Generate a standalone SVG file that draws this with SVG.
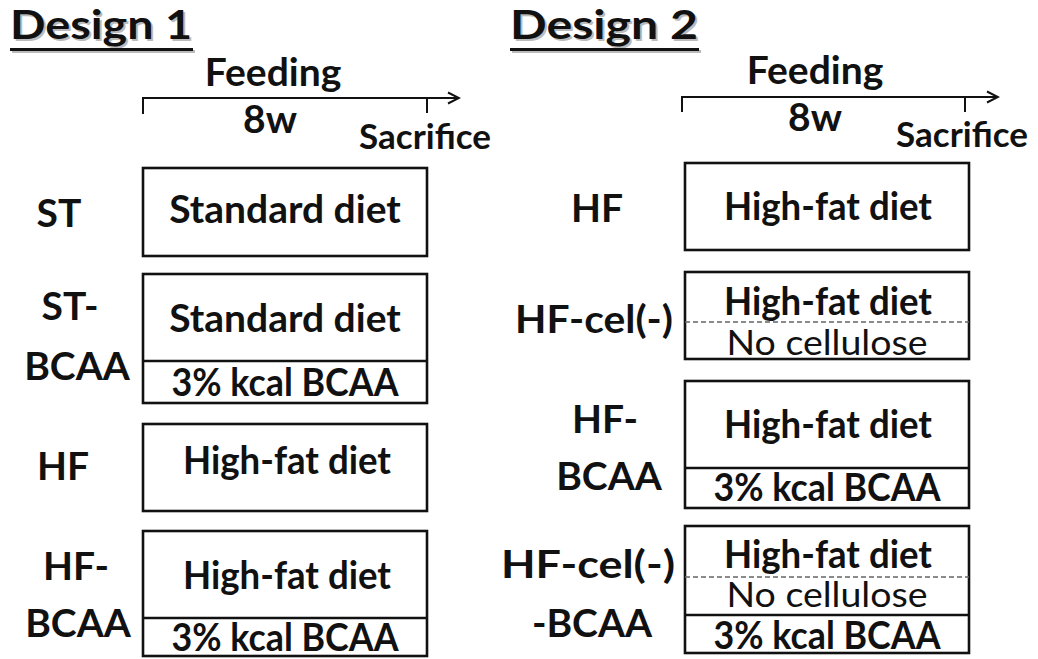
<svg xmlns="http://www.w3.org/2000/svg" width="1038" height="659" viewBox="0 0 1038 659">
<defs>
<marker id="arr" markerWidth="14" markerHeight="14" refX="12" refY="7" orient="auto" markerUnits="userSpaceOnUse">
<path d="M1,1.5 L12,7 L1,12.5" fill="none" stroke="#111" stroke-width="2"/>
</marker>
</defs>
<style>
text{font-family:Lato,"Liberation Sans",sans-serif;fill:#111;}
.b{font-weight:bold;font-size:39px;}
.s{font-weight:bold;font-size:35px;}
.t{font-weight:bold;font-size:40px;}
.sh{fill:#bbb;}
.n{font-weight:normal;font-size:35px;}
.c{text-anchor:middle;}
.box{fill:#fff;stroke:#111;stroke-width:2.6;}
.div{stroke:#111;stroke-width:2.6;}
.dash{stroke:#666;stroke-width:1.3;stroke-dasharray:5,3;}
.ax{stroke:#111;stroke-width:2;fill:none;}
.ul{fill:#111;}
</style>
<rect width="1038" height="659" fill="#fff"/>
<g id="design1-header">
<text class="t sh" x="12" y="41" textLength="182" lengthAdjust="spacingAndGlyphs">Design 1</text>
<rect x="12" y="50" width="183" height="3" fill="#bbb"/>
<text class="t" x="10" y="39" textLength="182" lengthAdjust="spacingAndGlyphs">Design 1</text>
<rect class="ul" x="10" y="48" width="183" height="3"/>
<text class="b c" x="273" y="86">Feeding</text>
<text class="b c" x="270" y="133">8w</text>
<text class="s c" x="425" y="149">Sacrifice</text>
</g>
<g id="design2-header">
<text class="t sh" x="512" y="41" textLength="188" lengthAdjust="spacingAndGlyphs">Design 2</text>
<rect x="512" y="50" width="189" height="3" fill="#bbb"/>
<text class="t" x="510" y="39" textLength="188" lengthAdjust="spacingAndGlyphs">Design 2</text>
<rect class="ul" x="510" y="48" width="189" height="3"/>
<text class="b c" x="815" y="84">Feeding</text>
<text class="b c" x="815" y="131">8w</text>
<text class="s c" x="962" y="147">Sacrifice</text>
</g>
<g id="connectors">
<path class="ax" d="M143,114 V98 H459" marker-end="url(#arr)"/>
<path class="ax" d="M427,98 V113"/>
<path class="ax" d="M682,112 V97 H998" marker-end="url(#arr)"/>
<path class="ax" d="M965,97 V112"/>
</g>
<g id="d1-ST">
<text class="b c" x="59" y="227">ST</text>
<rect class="box" x="143" y="168" width="284" height="88"/>
<text class="b c" x="285" y="223">Standard diet</text>
</g>
<g id="d1-ST-BCAA">
<text class="b c" x="70" y="320">ST-</text>
<text class="b c" x="77" y="380">BCAA</text>
<rect class="box" x="143" y="274" width="284" height="129"/>
<line class="div" x1="143" y1="361" x2="427" y2="361"/>
<text class="b c" x="285" y="332">Standard diet</text>
<text class="b c" x="285" y="396" textLength="227" lengthAdjust="spacingAndGlyphs">3% kcal BCAA</text>
</g>
<g id="d1-HF">
<text class="b c" x="63" y="480">HF</text>
<rect class="box" x="143" y="424" width="284" height="87"/>
<text class="b c" x="287" y="474" textLength="208" lengthAdjust="spacingAndGlyphs">High-fat diet</text>
</g>
<g id="d1-HF-BCAA">
<text class="b c" x="76" y="580">HF-</text>
<text class="b c" x="78" y="637">BCAA</text>
<rect class="box" x="143" y="531" width="284" height="125"/>
<line class="div" x1="143" y1="618" x2="427" y2="618"/>
<text class="b c" x="287" y="589" textLength="208" lengthAdjust="spacingAndGlyphs">High-fat diet</text>
<text class="b c" x="285" y="651" textLength="227" lengthAdjust="spacingAndGlyphs">3% kcal BCAA</text>
</g>
<g id="d2-HF">
<text class="b c" x="597" y="222">HF</text>
<rect class="box" x="685" y="163" width="284" height="87"/>
<text class="b c" x="828" y="220" textLength="208" lengthAdjust="spacingAndGlyphs">High-fat diet</text>
</g>
<g id="d2-HF-cel">
<text class="b c" x="594" y="333" textLength="158" lengthAdjust="spacingAndGlyphs">HF-cel(-)</text>
<rect class="box" x="685" y="272" width="284" height="87"/>
<line class="dash" x1="685" y1="322" x2="969" y2="322"/>
<text class="b c" x="828" y="315" textLength="208" lengthAdjust="spacingAndGlyphs">High-fat diet</text>
<text class="n c" x="827" y="355" textLength="201" lengthAdjust="spacingAndGlyphs">No cellulose</text>
</g>
<g id="d2-HF-BCAA">
<text class="b c" x="605" y="433">HF-</text>
<text class="b c" x="609" y="490">BCAA</text>
<rect class="box" x="685" y="381" width="284" height="127"/>
<line class="div" x1="685" y1="468" x2="969" y2="468"/>
<text class="b c" x="828" y="438" textLength="208" lengthAdjust="spacingAndGlyphs">High-fat diet</text>
<text class="b c" x="827" y="501" textLength="227" lengthAdjust="spacingAndGlyphs">3% kcal BCAA</text>
</g>
<g id="d2-HF-cel-BCAA">
<text class="b c" x="588" y="578" textLength="174" lengthAdjust="spacingAndGlyphs">HF-cel(-)</text>
<text class="b c" x="592" y="637">-BCAA</text>
<rect class="box" x="685" y="526" width="284" height="127"/>
<line class="dash" x1="685" y1="577" x2="969" y2="577"/>
<line class="div" x1="685" y1="615" x2="969" y2="615"/>
<text class="b c" x="828" y="568" textLength="208" lengthAdjust="spacingAndGlyphs">High-fat diet</text>
<text class="n c" x="827" y="607" font-size="33" textLength="201" lengthAdjust="spacingAndGlyphs">No cellulose</text>
<text class="b c" x="827" y="649" font-size="37" textLength="227" lengthAdjust="spacingAndGlyphs">3% kcal BCAA</text>
</g>
</svg>
